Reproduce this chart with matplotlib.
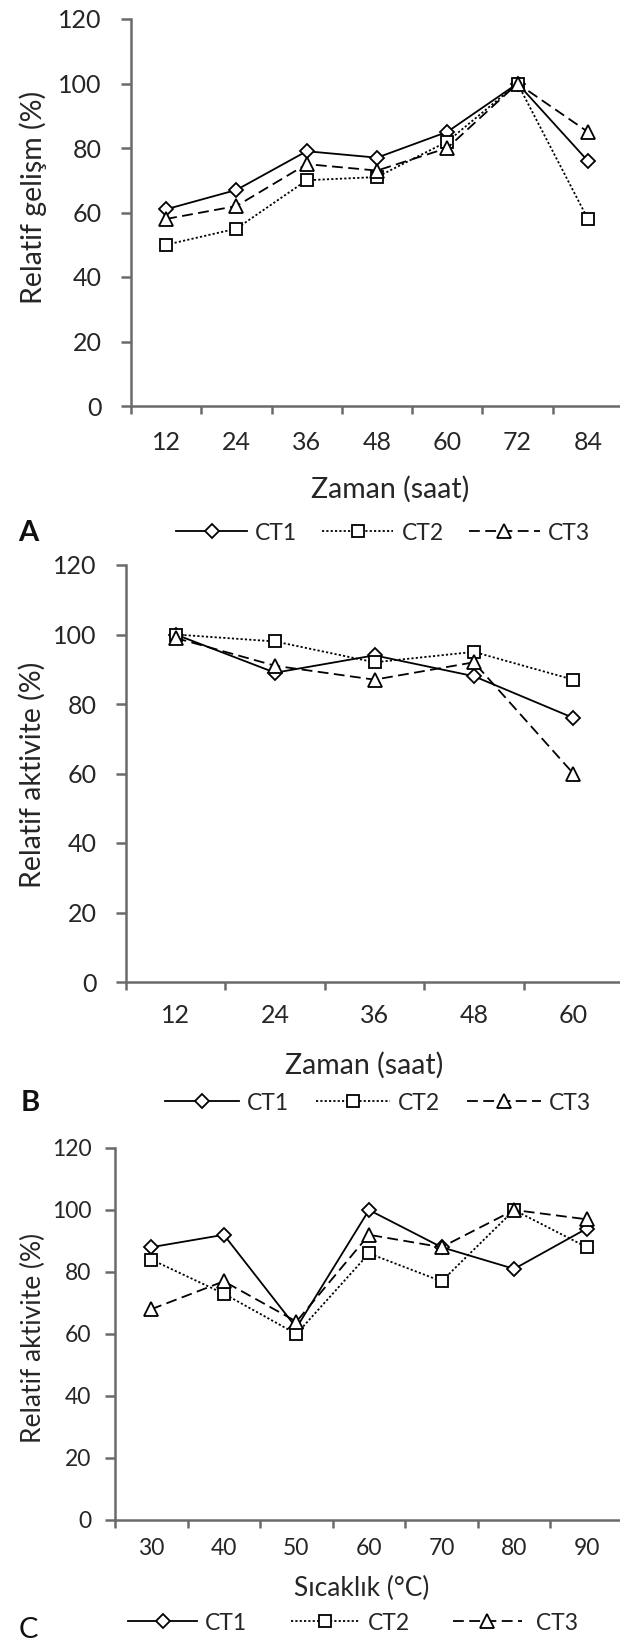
import numpy as np
import matplotlib.pyplot as plt
from matplotlib.ticker import FixedLocator

plt.rcParams['font.family'] = ['Lato', 'DejaVu Sans']

# panel A - relative growth vs time
time_a = ['12', '24', '36', '48', '60', '72', '84']
ct1_a = [61, 67, 79, 77, 85, 100, 76]
ct2_a = [50, 55, 70, 71, 82, 100, 58]
ct3_a = [58, 62, 75, 73, 80, 100, 85]

# panel B - relative activity vs time
time_b = ['12', '24', '36', '48', '60']
ct1_b = [100, 89, 94, 88, 76]
ct2_b = [100, 98, 92, 95, 87]
ct3_b = [99, 91, 87, 92, 60]

# panel C - relative activity vs temperature
temp_c = ['30', '40', '50', '60', '70', '80', '90']
ct1_c = [88, 92, 62, 100, 88, 81, 94]
ct2_c = [84, 73, 60, 86, 77, 100, 88]
ct3_c = [68, 77, 64, 92, 88, 100, 97]

names = ['CT1', 'CT2', 'CT3']
yticks = [0, 20, 40, 60, 80, 100, 120]

W, H = 620, 1645
TXT = '#262626'
AXC = '#6a6a6a'

styles = {
    'CT1': dict(ls='-', marker='D', ms=7.5),
    'CT2': dict(ls=(0, (1.2, 1.2)), marker='s', ms=9),
    'CT3': dict(ls=(0, (6, 3)), marker='^', ms=10),
}


def box(l, r, t, b):
    return [l / W, 1 - b / H, (r - l) / W, (b - t) / H]


def panel(rect, cats, series, xlabel, ylabel, xl_pos, yl_pos, xpad, ypad,
          fs, lfs):
    ax = fig.add_axes(rect)
    x = np.arange(len(cats))
    handles = []
    for name, vals in zip(names, series):
        st = styles[name]
        h, = ax.plot(x, vals, color='black', lw=1.3, ls=st['ls'],
                     marker=st['marker'], ms=st['ms'], mfc='white',
                     mec='black', mew=1.3, label=name, clip_on=False)
        handles.append(h)
    ax.set_xlim(-0.5, len(cats) - 0.5)
    ax.set_ylim(0, 120)
    for s in ['top', 'right']:
        ax.spines[s].set_visible(False)
    for s in ['left', 'bottom']:
        ax.spines[s].set_color(AXC)
        ax.spines[s].set_linewidth(1.8)
    ax.set_xticks(x)
    ax.set_xticklabels(cats)
    ax.xaxis.set_minor_locator(FixedLocator(np.arange(-0.5, len(cats), 1.0)))
    ax.tick_params(axis='x', which='major', length=0, pad=xpad,
                   labelsize=fs, labelcolor=TXT)
    ax.tick_params(axis='x', which='minor', length=6, width=1.8, color=AXC)
    ax.set_yticks(yticks)
    ax.tick_params(axis='y', length=7, width=1.8, color=AXC, pad=ypad,
                   labelsize=fs, labelcolor=TXT)
    ax.set_xlabel(xlabel, fontsize=lfs, color=TXT, va='center')
    ax.xaxis.set_label_coords(*xl_pos)
    ax.set_ylabel(ylabel, fontsize=lfs, color=TXT, va='center')
    ax.yaxis.set_label_coords(*yl_pos)
    return ax, handles


def legend(handles, cx, cy, hlen, colsp, labels=names):
    fig.legend(handles, labels, loc='center',
               bbox_to_anchor=(cx / W, 1 - cy / H), ncol=3, frameon=False,
               fontsize=16.5, handlelength=hlen, handletextpad=0.35,
               columnspacing=colsp, numpoints=1, labelcolor=TXT,
               borderpad=0, borderaxespad=0)


fig = plt.figure(figsize=(W / 100, H / 100), dpi=100)

ax_a, h_a = panel(box(131, 623, 19, 406), time_a, [ct1_a, ct2_a, ct3_a],
                  'Zaman (saat)', 'Relatif gelişm (%)',
                  (0.526, -0.215), (-0.198, 0.54), 18, 14, 18, 20.5)
legend(h_a, 383, 533, 3.1, 1.1)
fig.text(28 / W, 1 - 533 / H, 'A', fontsize=21, fontweight='bold',
         color='#111111', ha='center', va='center')

ax_b, h_b = panel(box(126, 623, 565, 982), time_b, [ct1_b, ct2_b, ct3_b],
                  'Zaman (saat)', 'Relatif aktivite (%)',
                  (0.479, -0.2), (-0.188, 0.496), 16, 14, 18, 20.5)
legend(h_b, 378, 1103, 3.2, 1.2)
fig.text(30 / W, 1 - 1103 / H, 'B', fontsize=21, fontweight='bold',
         color='#111111', ha='center', va='center')

ax_c, h_c = panel(box(115, 623, 1148, 1520), temp_c, [ct1_c, ct2_c, ct3_c],
                  'Sıcaklık (°C)', 'Relatif aktivite (%)',
                  (0.486, -0.183), (-0.16, 0.489), 13, 10, 16.5, 19)
legend(h_c, 353, 1623, 3.0, 1.9, ['CT1', 'CT2', ' CT3'])
fig.text(28 / W, 1 - 1630 / H, 'C', fontsize=21,
         color='#111111', ha='center', va='center')

fig.savefig('out.png', dpi=100)
